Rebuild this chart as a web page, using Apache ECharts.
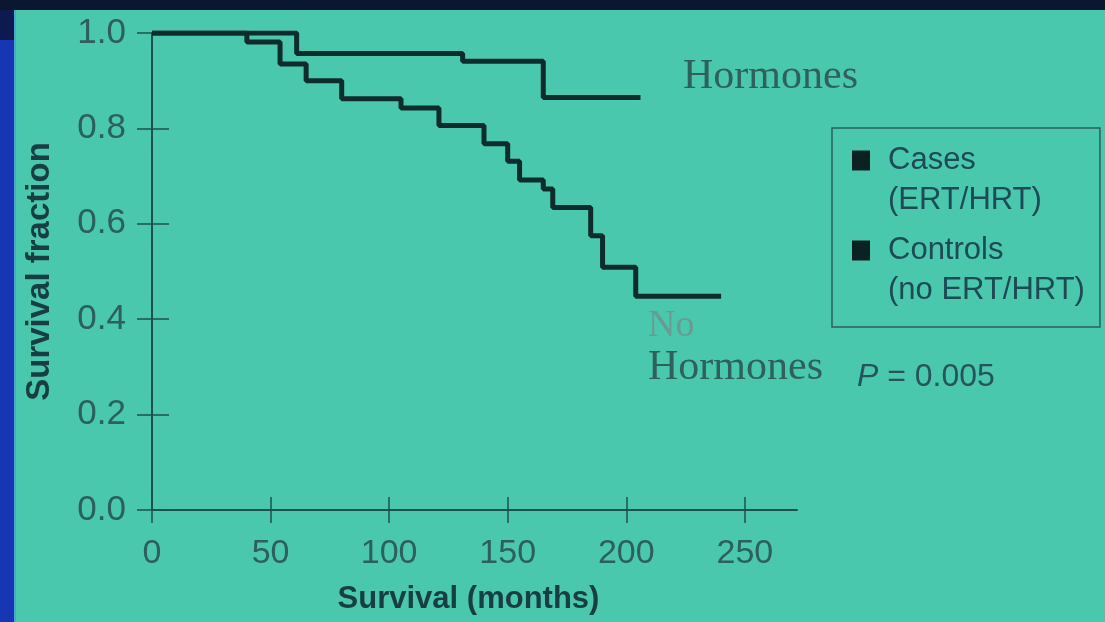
<!DOCTYPE html>
<html>
<head>
<meta charset="utf-8">
<script src="https://cdn.jsdelivr.net/npm/echarts@6/dist/echarts.min.js"></script>
<style>
html,body{margin:0;padding:0;background:#4ac8ae;}
#chart{width:1105px;height:622px;}
</style>
</head>
<body>
<div id="chart"></div>
<script>
// ---- data ----
var casesName = 'Cases\n(ERT/HRT)';
var controlsName = 'Controls\n(no ERT/HRT)';
var casesMonths   = [0, 61, 131, 165, 206];
var casesSurv     = [1.0, 0.957, 0.941, 0.865, 0.865];
var controlsMonths = [0, 40, 54, 65, 80, 105, 121, 140, 150, 155, 165, 169, 185, 190, 204, 240];
var controlsSurv   = [1.0, 0.981, 0.935, 0.900, 0.862, 0.843, 0.806, 0.768, 0.731, 0.692, 0.673, 0.634, 0.575, 0.509, 0.448, 0.448];
var xTicks = [0, 50, 100, 150, 200, 250];
var yTicks = [0, 0.2, 0.4, 0.6, 0.8, 1.0];
var xLabel = 'Survival (months)';
var yLabel = 'Survival fraction';
var upperNote = 'Hormones';
var lowerNote1 = 'No';
var lowerNote2 = 'Hormones';
var pText = '0.005';

function pairs(xs, ys) { return xs.map(function (x, i) { return [x, ys[i]]; }); }

var axisColor = '#1f4f50';
var lineColor = '#0e2c2b';
var chart = echarts.init(document.getElementById('chart'));

function legendFmt(name) {
  var p = name.split('\n');
  return '{sq|}{gap|}{t|' + p[0] + '}\n{pad|}{t|' + p[1] + '}';
}

var commonX = { type: 'value', min: 0, max: 272, gridIndex: 0 };
var commonY = { type: 'value', min: 0, max: 1, interval: 0.2, gridIndex: 0 };

chart.setOption({
  backgroundColor: '#4ac8ae',
  animation: false,
  grid: { left: 152, top: 33, right: 308, bottom: 112, containLabel: false },
  xAxis: [
    Object.assign({}, commonX, {
      position: 'bottom',
      name: xLabel, nameLocation: 'middle', nameGap: 74,
      nameTextStyle: { fontFamily: 'Liberation Sans', fontWeight: 'bold', fontSize: 31, color: '#183d42', padding: [0, 12, 0, 0] },
      axisLine: { show: true, onZero: false, lineStyle: { color: axisColor, width: 2 } },
      axisTick: { show: true, inside: false, length: 13, lineStyle: { color: axisColor, width: 1.5 }, customValues: xTicks },
      axisLabel: { show: true, customValues: xTicks, margin: 27, fontFamily: 'Liberation Sans', fontSize: 34, color: '#2d5f5c' },
      splitLine: { show: false }
    }),
    Object.assign({}, commonX, {
      position: 'bottom',
      axisLine: { show: false, onZero: false },
      axisTick: { show: true, inside: true, length: 13, lineStyle: { color: axisColor, width: 1.5 }, customValues: xTicks },
      axisLabel: { show: false },
      splitLine: { show: false }
    })
  ],
  yAxis: [
    Object.assign({}, commonY, {
      position: 'left',
      name: yLabel, nameLocation: 'middle', nameGap: 96, nameRotate: 90,
      nameTextStyle: { fontFamily: 'Liberation Sans', fontWeight: 'bold', fontSize: 33, color: '#183d42' },
      axisLine: { show: true, onZero: false, lineStyle: { color: axisColor, width: 2 } },
      axisTick: { show: true, inside: false, length: 15, lineStyle: { color: axisColor, width: 1.5 } },
      axisLabel: { show: true, margin: 26, fontFamily: 'Liberation Sans', fontSize: 35, color: '#2d5f5c',
                   formatter: function (v) { return v.toFixed(1); } },
      splitLine: { show: false }
    }),
    Object.assign({}, commonY, {
      position: 'left',
      axisLine: { show: false, onZero: false },
      axisTick: { show: true, inside: true, length: 17, lineStyle: { color: axisColor, width: 1.5 } },
      axisLabel: { show: false },
      splitLine: { show: false }
    })
  ],
  legend: {
    orient: 'vertical',
    left: 832, top: 128,
    padding: [17, 15, 21, 15],
    itemGap: 19,
    itemWidth: 0, itemHeight: 0,
    icon: 'rect',
    itemStyle: { opacity: 0 },
    borderColor: '#2c5d62', borderWidth: 1.5,
    data: [casesName, controlsName],
    formatter: legendFmt,
    selectedMode: false,
    textStyle: {
      rich: {
        sq: { width: 18, height: 20, backgroundColor: '#0b2223' },
        gap: { width: 18 },
        pad: { width: 36 },
        t: { fontFamily: 'Liberation Sans', fontSize: 31, color: '#1d4a55', lineHeight: 40 }
      }
    }
  },
  graphic: [
    { type: 'rect', left: 0, top: 0, shape: { width: 1105, height: 10 }, style: { fill: '#0b1630' }, z: 100 },
    { type: 'rect', left: 0, top: 0, shape: { width: 14, height: 622 }, style: { fill: '#1636b4' }, z: 99 },
    { type: 'rect', left: 14, top: 10, shape: { width: 2, height: 612 }, style: { fill: '#4aa8cc' }, z: 99 },
    { type: 'rect', left: 0, top: 0, shape: { width: 14, height: 40 }, style: { fill: '#0c1a50' }, z: 99 },
    { type: 'text', left: 683, top: 56, style: { text: upperNote, font: '42px "Liberation Serif"', fill: '#2e605c' } },
    { type: 'text', left: 648, top: 307, style: { text: lowerNote1, font: '38px "Liberation Serif"', fill: '#6a9a94' } },
    { type: 'text', left: 648, top: 347, style: { text: lowerNote2, font: '42px "Liberation Serif"', fill: '#2e605c' } },
    { type: 'text', left: 857, top: 361, style: {
        text: '{i|P} = ' + pText,
        rich: { i: { fontStyle: 'italic', fontFamily: 'Liberation Sans', fontSize: 32, fill: '#27545a' } },
        font: '32px "Liberation Sans"', fill: '#27545a' } }
  ],
  series: [
    {
      name: casesName, type: 'line', step: 'end', xAxisIndex: 0, yAxisIndex: 0,
      data: pairs(casesMonths, casesSurv), symbol: 'none',
      lineStyle: { color: lineColor, width: 5 }, itemStyle: { color: lineColor }, z: 3
    },
    {
      name: controlsName, type: 'line', step: 'end', xAxisIndex: 1, yAxisIndex: 1,
      data: pairs(controlsMonths, controlsSurv), symbol: 'none',
      lineStyle: { color: lineColor, width: 5 }, itemStyle: { color: lineColor }, z: 3
    }
  ]
});
</script>
</body>
</html>
